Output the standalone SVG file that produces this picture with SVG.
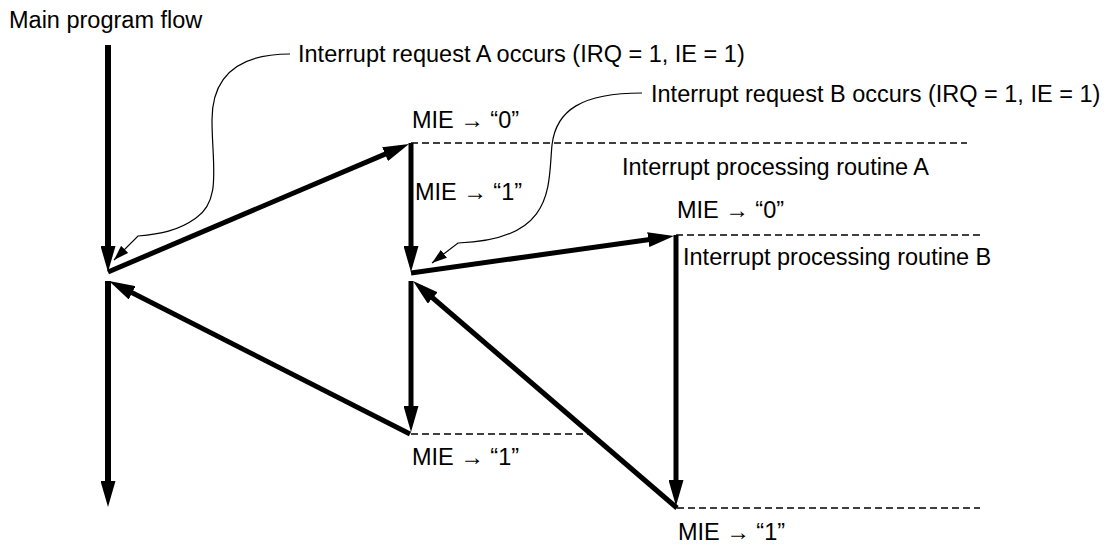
<svg xmlns="http://www.w3.org/2000/svg" width="1120" height="547" viewBox="0 0 1120 547">
  <style>
    .t { font-family: "Liberation Sans", Arial, sans-serif; font-size: 23.5px; fill: #000; }
    .flow { stroke: #000; stroke-width: 5; fill: none; marker-end: url(#big); }
    .main { stroke-width: 6; }
    .dash { stroke: #000; stroke-width: 1.6; stroke-dasharray: 7 4; fill: none; }
    .lead { stroke: #000; stroke-width: 1.2; fill: none; marker-end: url(#small); }
  </style>
  <defs>
    <marker id="big" markerUnits="userSpaceOnUse" viewBox="0 0 26 15" markerWidth="26" markerHeight="15" refX="16" refY="7.5" orient="auto">
      <path d="M0,0 L26,7.5 L0,15 z" fill="#000"/>
    </marker>
    <marker id="small" markerUnits="userSpaceOnUse" viewBox="0 0 15 10" markerWidth="15" markerHeight="10" refX="15" refY="5" orient="auto">
      <path d="M0,0 L15,5 L0,10 z" fill="#000"/>
    </marker>
  </defs>
  <rect width="1120" height="547" fill="#fff"/>

  <g id="dashed-lines">
    <line class="dash" x1="411" y1="143" x2="967" y2="143"/>
    <line class="dash" x1="676" y1="235" x2="980" y2="235"/>
    <line class="dash" x1="411" y1="434" x2="588" y2="434"/>
    <line class="dash" x1="677" y1="508" x2="980" y2="508"/>
  </g>

  <g id="connectors">
    <line class="flow main" x1="108" y1="45" x2="108" y2="262"/>
    <line class="flow" x1="108" y1="272" x2="399.8" y2="147.9"/>
    <line class="flow" x1="411" y1="143" x2="411" y2="262"/>
    <line class="flow" x1="411" y1="273" x2="664.1" y2="237.4"/>
    <line class="flow" x1="676" y1="235" x2="676" y2="496"/>
    <line class="flow" x1="677" y1="508" x2="420.6" y2="287.5"/>
    <line class="flow" x1="411" y1="281" x2="411" y2="422"/>
    <line class="flow" x1="410" y1="434" x2="117.9" y2="285.5"/>
    <line class="flow main" x1="108" y1="281" x2="108" y2="497"/>
    <path class="lead" d="M290,54 C240,54 212,75 212,120 C212,165 222,200 196,218 C178,231 160,234 138,236 L114,260"/>
    <path class="lead" d="M642,93 C582,93 556,110 552,145 C548,185 556,240 458,243 L432,263"/>
  </g>

  <g id="labels">
    <text class="t" x="9" y="28">Main program flow</text>
    <text class="t" x="298" y="62">Interrupt request A occurs (IRQ = 1, IE = 1)</text>
    <text class="t" x="651" y="102">Interrupt request B occurs (IRQ = 1, IE = 1)</text>
    <text class="t" x="412" y="128">MIE → “0”</text>
    <text class="t" x="415" y="200">MIE → “1”</text>
    <text class="t" x="622" y="175">Interrupt processing routine A</text>
    <text class="t" x="677" y="218">MIE → “0”</text>
    <text class="t" x="683" y="265">Interrupt processing routine B</text>
    <text class="t" x="412" y="465">MIE → “1”</text>
    <text class="t" x="678" y="540">MIE → “1”</text>
  </g>
</svg>
